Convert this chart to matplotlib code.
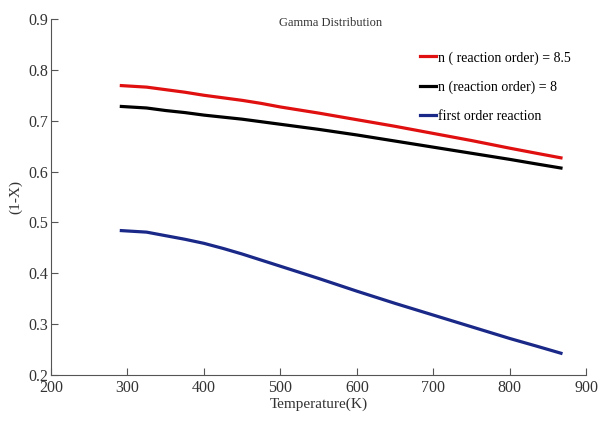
import matplotlib
matplotlib.use("Agg")
import matplotlib.pyplot as plt

# temperature points
temp = [292, 325, 350, 375, 400, 425, 450, 475, 500, 550, 600, 650, 700, 750, 800, 835, 867]
# n = 8.5
red_vals = [0.769, 0.766, 0.761, 0.756, 0.750, 0.745, 0.740, 0.734, 0.727, 0.715, 0.702,
            0.689, 0.675, 0.661, 0.646, 0.636, 0.627]
# n = 8
black_vals = [0.728, 0.725, 0.720, 0.716, 0.711, 0.707, 0.703, 0.698, 0.693, 0.683, 0.672,
              0.660, 0.648, 0.636, 0.624, 0.615, 0.607]
# first order
blue_vals = [0.484, 0.481, 0.474, 0.467, 0.459, 0.449, 0.438, 0.426, 0.414, 0.390, 0.365,
             0.341, 0.318, 0.295, 0.272, 0.257, 0.243]

labels = ["n ( reaction order) = 8.5", "n (reaction order) = 8", "first order reaction"]

plt.rcParams['font.family'] = ['Liberation Serif', 'DejaVu Serif']

fig = plt.figure(figsize=(6, 4.21), dpi=100)
ax = fig.add_axes([0.085, 0.109, 0.892, 0.846])

ax.plot(temp, red_vals, color="#e01010", lw=2.3, label=labels[0])
ax.plot(temp, black_vals, color="black", lw=2.3, label=labels[1])
ax.plot(temp, blue_vals, color="#1a2888", lw=2.3, label=labels[2])

ax.set_xlim(200, 900)
ax.set_ylim(0.2, 0.9)
ax.set_xticks([200, 300, 400, 500, 600, 700, 800, 900])
ax.set_yticks([0.2, 0.3, 0.4, 0.5, 0.6, 0.7, 0.8, 0.9])
ax.set_yticklabels(["0.2", "0.3", "0.4", "0.5", "0.6", "0.7", "0.8", "0.9"])

for s in ["top", "right"]:
    ax.spines[s].set_visible(False)
for s in ["left", "bottom"]:
    ax.spines[s].set_color("#555555")
ax.tick_params(direction="in", length=5, color="#555555", labelsize=11.5, labelcolor="#333333")
ax.tick_params(axis="y", pad=2)

ax.set_xlabel("Temperature(K)", fontsize=11, color="#333333", labelpad=1)
ax.set_ylabel("(1-X)", fontsize=11, color="#333333", labelpad=4)
ax.text(565, 0.893, "Gamma Distribution", fontsize=9, ha="center", va="center", color="#333333")

ax.legend(loc="upper right", bbox_to_anchor=(0.995, 0.945), frameon=False, fontsize=10,
          handlelength=1.2, handletextpad=0.15, labelspacing=1.15)

fig.savefig("out.png", dpi=100)
